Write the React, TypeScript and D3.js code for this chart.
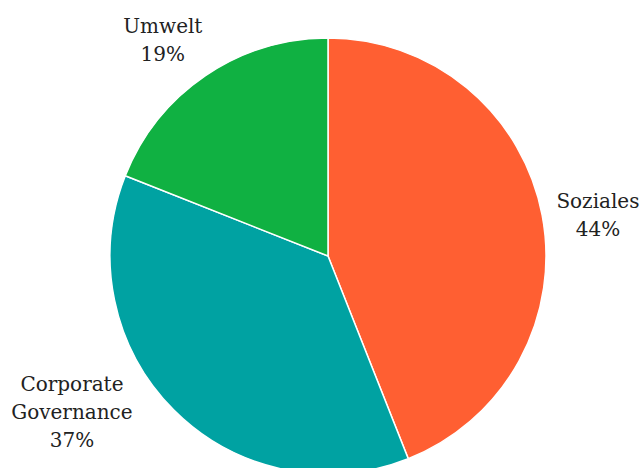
import React from "react";
import * as d3 from "d3";

const categories = ["Soziales", "Corporate Governance", "Umwelt"];
const values = [44, 37, 19];
const labelLines = [["Soziales"], ["Corporate", "Governance"], ["Umwelt"]];

const colors = ["#FF5F32", "#00A2A2", "#10B142"];
// label centre placement: polar (degrees clockwise from top, distance from centre)
const labelPolar = [
  { angle: 81.4, dist: 273 },
  { angle: 238.6, dist: 300 },
  { angle: 322.6, dist: 272 },
];

const W = 643;
const H = 468;
const CX = 328;
const CY = 256;
const R = 218;
const FONT = 20;
const LINE_H = 28;

export default function App() {
  const pie = d3
    .pie<number>()
    .sort(null)
    .value((d) => d);
  const arcs = pie(values);
  const arc = d3.arc<d3.PieArcDatum<number>>().innerRadius(0).outerRadius(R);

  return (
    <svg
      width={W}
      height={H}
      style={{ position: "fixed", left: 0, top: 0, background: "#fff" }}
    >
      <g transform={`translate(${CX},${CY})`}>
        {arcs.map((a, i) => (
          <path
            key={categories[i]}
            d={arc(a) || ""}
            fill={colors[i]}
            stroke="#fff"
            strokeWidth={1.5}
          />
        ))}
        {arcs.map((a, i) => {
          const p = labelPolar[i];
          const th = (p.angle * Math.PI) / 180;
          const x = Math.sin(th) * p.dist;
          const y = -Math.cos(th) * p.dist;
          const lines = [...labelLines[i], `${values[i]}%`];
          const n = lines.length;
          const y0 = y - ((n - 1) * LINE_H) / 2;
          return (
            <text
              key={"l" + i}
              x={x}
              y={y0}
              textAnchor="middle"
              dominantBaseline="central"
              fontFamily="'DejaVu Serif', serif"
              fontSize={FONT}
              fill="#222"
            >
              {lines.map((t, j) => (
                <tspan key={j} x={x} y={y0 + j * LINE_H} dominantBaseline="central">
                  {t}
                </tspan>
              ))}
            </text>
          );
        })}
      </g>
    </svg>
  );
}
